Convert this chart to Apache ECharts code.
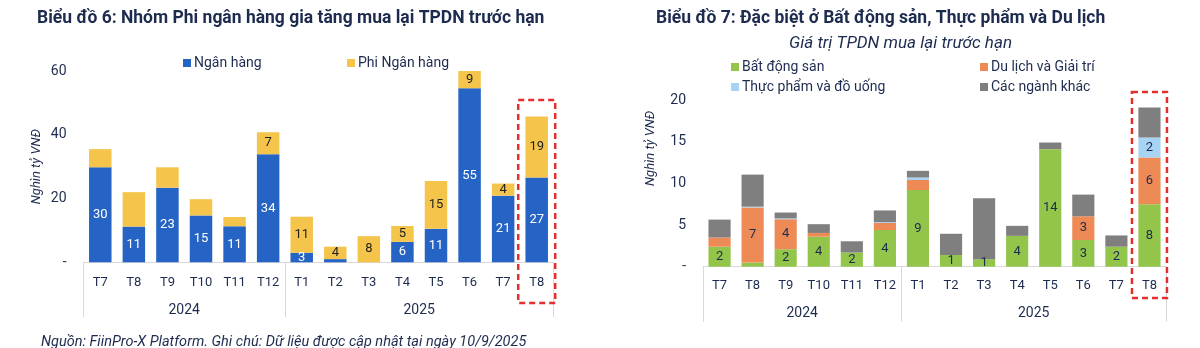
<!DOCTYPE html>
<html>
<head>
<meta charset="utf-8">
<script src="https://cdn.jsdelivr.net/npm/echarts@6/dist/echarts.min.js"></script>
<style>
html,body{margin:0;padding:0;background:#fff;}
#c{width:1200px;height:348px;}
</style>
</head>
<body>
<div id="c"></div>
<script>
// ---------- DATA ----------
const months = ['T7','T8','T9','T10','T11','T12','T1','T2','T3','T4','T5','T6','T7','T8'];
const yearNames = ['2024','2025'];
const yearMonthCounts = [6, 8];

// Chart 6 (Nghìn tỷ VNĐ)
const bank    = [29.8, 11.2, 23.4, 14.7, 11.3, 33.9, 3.0, 1.0, 0, 6.4, 10.5, 54.6, 20.9, 26.6];
const nonBank = [5.7, 10.8, 6.4, 5.1, 2.9, 6.9, 11.3, 3.9, 8.2, 5.0, 15.0, 9, 3.8, 19.1];
const nonBankLabelShown = [false,false,false,false,false,true,true,true,true,true,true,true,true,true];
const leftTicks = [0, 20, 40, 60];

// Chart 7 (Nghìn tỷ VNĐ)
const realEstate = [2.4, 0.5, 2.1, 3.6, 1.7, 4.4, 9.2, 1.4, 0.9, 3.7, 14.1, 3.2, 2.4, 7.5];
const tourism    = [1.1, 6.6, 3.6, 0.45, 0, 0.85, 1.2, 0, 0, 0, 0, 2.85, 0, 5.6];
const food       = [0, 0.1, 0.1, 0, 0, 0.1, 0.3, 0, 0, 0, 0, 0, 0, 2.4];
const others     = [2.15, 3.85, 0.7, 1.05, 1.35, 1.4, 0.8, 2.55, 7.3, 1.2, 0.8, 2.6, 1.35, 3.6];
const rightTicks = [0, 5, 10, 15, 20];

// ---------- STYLE ----------
const NAVY = '#1d2b4f';
const FONT = 'Roboto';
const C_BANK = '#2563c4', C_NONBANK = '#f5c44b';
const C_RE = '#93c54b', C_TOUR = '#ee8a55', C_FOOD = '#a9d3f3', C_OTHER = '#7f7f7f';

// year boundaries derived from group counts
const bounds = [0];
yearMonthCounts.forEach(c => bounds.push(bounds[bounds.length-1] + c));
const yearCenters = yearMonthCounts.map((c, i) => bounds[i] + c / 2);

function catAxis(grid, margin) {
  return {
    type: 'category', gridIndex: grid, data: months,
    axisLine: {show: true, lineStyle: {color: '#d9d9d9', width: 1}},
    axisTick: {show: false},
    axisLabel: {color: NAVY, fontFamily: FONT, fontSize: 13, margin: margin, interval: 0},
    splitLine: {show: false}
  };
}
function yearAxis(grid, tickLen, margin) {
  return {
    type: 'value', gridIndex: grid, min: 0, max: months.length, position: 'bottom',
    axisLine: {show: false}, splitLine: {show: false},
    axisTick: {show: true, customValues: bounds, length: tickLen, lineStyle: {color: '#d9d9d9', width: 1}},
    axisLabel: {customValues: yearCenters, color: NAVY, fontFamily: FONT, fontSize: 14, margin: margin,
      formatter: v => { const i = yearCenters.indexOf(v); return i >= 0 ? yearNames[i] : ''; }}
  };
}
function valAxis(grid, ticks, gap, namePad) {
  return {
    type: 'value', gridIndex: grid, min: ticks[0], max: ticks[ticks.length-1], interval: ticks[1] - ticks[0],
    name: 'Nghìn tỷ VNĐ', nameLocation: 'middle', nameGap: gap,
    nameTextStyle: {color: NAVY, fontFamily: FONT, fontSize: 13, fontStyle: 'italic', padding: namePad},
    axisLine: {show: false}, axisTick: {show: false}, splitLine: {show: false},
    axisLabel: {color: NAVY, fontFamily: FONT, fontSize: 14, margin: 17,
      formatter: v => v === 0 ? '-' : String(v)}
  };
}
function lab(color, minV, shownArr) {
  return {
    show: true, position: 'inside', color: color, fontFamily: FONT, fontSize: 13,
    formatter: p => {
      if (shownArr && !shownArr[p.dataIndex]) return '';
      return p.value >= minV ? String(Math.round(p.value)) : '';
    }
  };
}
function legend(name, left, top) {
  return {
    data: [name], left: left, top: top, icon: 'rect', itemWidth: 8, itemHeight: 8, itemGap: 0,
    textStyle: {color: NAVY, fontFamily: FONT, fontSize: 14, padding: [0, 0, 0, -2]},
    selectedMode: false
  };
}

const chart = echarts.init(document.getElementById('c'), null, {renderer: 'canvas'});
const option = {
  backgroundColor: '#fff',
  animation: false,
  title: [
    {text: 'Biểu đồ 6: Nhóm Phi ngân hàng gia tăng mua lại TPDN trước hạn', left: 32, top: 5,
     textStyle: {color: NAVY, fontFamily: FONT, fontSize: 17.5, fontWeight: 'bold'}},
    {text: 'Biểu đồ 7: Đặc biệt ở Bất động sản, Thực phẩm và Du lịch', left: 651, top: 5,
     textStyle: {color: NAVY, fontFamily: FONT, fontSize: 17.5, fontWeight: 'bold'}},
    {text: 'Giá trị TPDN mua lại trước hạn', left: 784, top: 30,
     textStyle: {color: NAVY, fontFamily: FONT, fontSize: 17, fontWeight: 'normal', fontStyle: 'italic'}},
    {text: 'Nguồn: FiinPro-X Platform. Ghi chú: Dữ liệu được cập nhật tại ngày 10/9/2025', left: 36, top: 330,
     textStyle: {color: NAVY, fontFamily: FONT, fontSize: 14.5, fontWeight: 'normal', fontStyle: 'italic'}}
  ],
  legend: [
    legend('Ngân hàng', 178, 51),
    legend('Phi Ngân hàng', 342, 51),
    legend('Bất động sản', 726, 55),
    legend('Du lịch và Giải trí', 975, 55),
    legend('Thực phẩm và đồ uống', 726, 75),
    legend('Các ngành khác', 975, 75)
  ],
  grid: [
    {left: 83.5, right: 646.5, top: 71, bottom: 85.7, containLabel: false},
    {left: 703, right: 34, top: 100, bottom: 81.3, containLabel: false}
  ],
  xAxis: [catAxis(0, 14), yearAxis(0, 55, 41), catAxis(1, 13), yearAxis(1, 55, 40)],
  yAxis: [valAxis(0, leftTicks, 40, [0,0,0,0]), valAxis(1, rightTicks, 46, [0,0,0,70])],
  series: [
    {name: 'Ngân hàng', type: 'bar', stack: 'a', xAxisIndex: 0, yAxisIndex: 0, data: bank,
     barCategoryGap: '33%', itemStyle: {color: C_BANK}, label: lab('#ffffff', 2)},
    {name: 'Phi Ngân hàng', type: 'bar', stack: 'a', xAxisIndex: 0, yAxisIndex: 0, data: nonBank,
     barCategoryGap: '33%', itemStyle: {color: C_NONBANK}, label: lab('#1f1f1f', 2, nonBankLabelShown)},
    {name: 'Bất động sản', type: 'bar', stack: 'b', xAxisIndex: 2, yAxisIndex: 1, data: realEstate,
     barCategoryGap: '33%', itemStyle: {color: C_RE}, label: lab(NAVY, 0.8)},
    {name: 'Du lịch và Giải trí', type: 'bar', stack: 'b', xAxisIndex: 2, yAxisIndex: 1, data: tourism,
     barCategoryGap: '33%', itemStyle: {color: C_TOUR}, label: lab(NAVY, 2)},
    {name: 'Thực phẩm và đồ uống', type: 'bar', stack: 'b', xAxisIndex: 2, yAxisIndex: 1, data: food,
     barCategoryGap: '33%', itemStyle: {color: C_FOOD}, label: lab(NAVY, 2)},
    {name: 'Các ngành khác', type: 'bar', stack: 'b', xAxisIndex: 2, yAxisIndex: 1, data: others,
     barCategoryGap: '33%', itemStyle: {color: C_OTHER}, label: {show: false}}
  ]
};
chart.setOption(option);

// red dashed highlight boxes around the latest month, located via the axes
const last = months.length - 1;
const pL = chart.convertToPixel({xAxisIndex: 0}, last);
const pR = chart.convertToPixel({xAxisIndex: 2}, last);
const boxStyle = {stroke: '#e3302d', lineWidth: 2.5, lineDash: [6, 4], fill: 'none'};
chart.setOption({
  graphic: [
    {type: 'rect', shape: {x: pL - 18.5, y: 100, width: 37, height: 203}, style: boxStyle, z: 100},
    {type: 'rect', shape: {x: pR - 17.5, y: 92, width: 35, height: 206}, style: boxStyle, z: 100}
  ]
});
</script>
</body>
</html>
